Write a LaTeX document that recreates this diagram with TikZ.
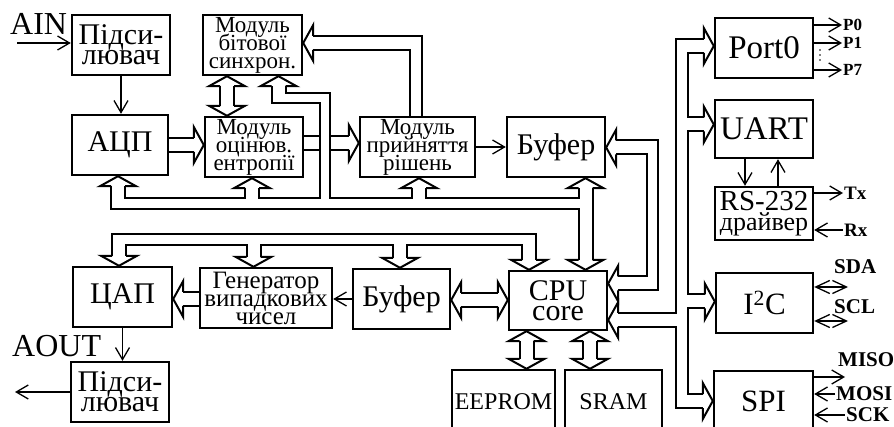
\documentclass[tikz,border=0pt]{standalone}
\usepackage{fontspec}
\setmainfont{Liberation Serif}
\usetikzlibrary{arrows.meta,calc}
\newcommand{\hgap}{7}
\newcommand{\hwid}{18}
\newcommand{\hlen}{10}
\newcommand{\fsz}[2]{\fontsize{#1}{#2}\selectfont\lineskiplimit=-100pt\relax}
\tikzset{
  blk/.style={draw, line width=2.4pt, inner sep=0pt, align=center, minimum width=98pt,
              minimum height=60pt, font=\fsz{30}{20}},
  modbox/.style={blk, font=\fsz{23}{18}},
  bus/.style={line width=2pt, line join=miter},                       % double-line bus
  sig/.style={-{Straight Barb[length=12pt,width=14pt]}, line width=1.3pt}, % single signal
  bisig/.style={{Straight Barb[length=14pt,width=13pt]}-{Straight Barb[length=14pt,width=13pt]}, line width=1.3pt},
  pinlbl/.style={font=\fsz{17}{17}\bfseries, inner sep=1pt, anchor=west},
  extlbl/.style={font=\fsz{32}{32}, inner sep=0pt, anchor=base west},
}
% hollow bus heads: #1 tip, #2 name of the two stem points
\newcommand{\headU}[2]{\begin{scope}[shift={(#1)}]
  \draw[bus] (-\hgap,\hlen) -- (-\hwid,\hlen) -- (0,0) -- (\hwid,\hlen) -- (\hgap,\hlen);
  \coordinate (#2l) at (-\hgap,\hlen); \coordinate (#2r) at (\hgap,\hlen);
\end{scope}}
\newcommand{\headD}[2]{\begin{scope}[shift={(#1)}]
  \draw[bus] (-\hgap,-\hlen) -- (-\hwid,-\hlen) -- (0,0) -- (\hwid,-\hlen) -- (\hgap,-\hlen);
  \coordinate (#2l) at (-\hgap,-\hlen); \coordinate (#2r) at (\hgap,-\hlen);
\end{scope}}
\newcommand{\headL}[2]{\begin{scope}[shift={(#1)}]
  \draw[bus] (\hlen,-\hgap) -- (\hlen,-\hwid) -- (0,0) -- (\hlen,\hwid) -- (\hlen,\hgap);
  \coordinate (#2t) at (\hlen,-\hgap); \coordinate (#2b) at (\hlen,\hgap);
\end{scope}}
\newcommand{\headR}[2]{\begin{scope}[shift={(#1)}]
  \draw[bus] (-\hlen,-\hgap) -- (-\hlen,-\hwid) -- (0,0) -- (-\hlen,\hwid) -- (-\hlen,\hgap);
  \coordinate (#2t) at (-\hlen,-\hgap); \coordinate (#2b) at (-\hlen,\hgap);
\end{scope}}

\begin{document}
\begin{tikzpicture}[x=1pt,y=-1pt]
  \useasboundingbox (0,0) rectangle (894,427);
  \clip (0,0) rectangle (894,427);
  % blocks
  \node[blk] (amp1) at (121,45) {Підси-\\лювач};
  \node[blk, minimum width=96pt] (adc) at (120,145) {АЦП};
  \node[modbox, minimum width=99pt] (bsync) at (252.5,45) {Модуль\\бітової\\синхрон.};
  \node[modbox] (entr) at (254,147) {Модуль\\оцінюв.\\ентропії};
  \node[modbox, minimum width=115pt] (dec) at (417.5,147) {Модуль\\прийняття\\рішень};
  \node[blk] (buf1) at (556,147) {Буфер};
  \node[blk, minimum width=99pt] (dac) at (122.5,297) {ЦАП};
  \node[modbox, minimum width=132pt, font=\fsz{25}{18}] (gen) at (266,298) {Генератор\\випадкових\\чисел};
  \node[blk, minimum width=97pt] (buf2) at (401.5,299) {Буфер};
  \node[blk, minimum height=59pt] (cpu) at (558,300.5) {CPU\\core};
  \node[blk] (amp2) at (120,392) {Підси-\\лювач};
  \node[blk, minimum width=103pt, minimum height=64pt, font=\fsz{24}{20}] (eeprom) at (503.5,402) {EEPROM};
  \node[blk, minimum width=97pt, minimum height=64pt, font=\fsz{24}{20}] (sram) at (613.5,402) {SRAM};
  \node[blk, font=\fsz{33}{20}] (port0) at (764,48) {Port0};
  \node[blk, minimum height=58pt, font=\fsz{33}{20}] (uart) at (764,129) {UART};
  \node[blk, minimum height=53pt, font=\fsz{29}{20}] (rs) at (764,213.5) {RS-232\\{\fsz{26}{20}драйвер}};
  \node[blk, minimum width=97pt, font=\fsz{31}{20}] (i2c) at (764.5,303) {I\textsuperscript{2}C};
  \node[blk, minimum width=99pt, font=\fsz{31}{20}] (spi) at (763.5,401) {SPI};

  % outside labels
  \node[extlbl] (lAin) at (10,35) {AIN};
  \node[extlbl] (lAout) at (12,357) {AOUT};
  \node[pinlbl] (lP0) at (842,25) {P0};
  \node[pinlbl] (lP1) at (842,43) {P1};
  \node[pinlbl] (lP7) at (842,70) {P7};
  \foreach \yy in {50,55,60}{\fill (820,\yy) circle (0.9pt);}
  \node[pinlbl, font=\fsz{19}{19}\bfseries] (lTx) at (843,193) {Tx};
  \node[pinlbl, font=\fsz{19}{19}\bfseries] (lRx) at (843,230) {Rx};
  \node[pinlbl, font=\fsz{21}{21}\bfseries] (lSda) at (833,267) {SDA};
  \node[pinlbl, font=\fsz{21}{21}\bfseries] (lScl) at (833,307) {SCL};
  \node[pinlbl, font=\fsz{21}{21}\bfseries] (lMiso) at (837,360) {MISO};
  \node[pinlbl, font=\fsz{21}{21}\bfseries] (lMosi) at (835,394) {MOSI};
  \node[pinlbl, font=\fsz{21}{21}\bfseries] (lSck) at (845,415) {SCK};
  \coordinate (ainSrc) at (17,43);
  \coordinate (aoutEnd) at (15,392);
  \coordinate (sdaEnd) at (848,287);
  \coordinate (sclEnd) at (848,321);
  \coordinate (misoEnd) at (845,377);

  % single signals
  \draw[sig] (ainSrc) -- (amp1.west |- ainSrc);
  \draw[sig] (amp1.south) -- (amp1.south |- adc.north);
  \draw[sig] (dec.east) -- (dec.east -| buf1.west);
  \draw[sig] (buf2.west) -- (buf2.west -| gen.east);
  \draw[sig] (dac.south) -- (dac.south |- amp2.north);
  \draw[sig] (amp2.west |- aoutEnd) -- (aoutEnd);
  \draw[sig] (745,0 |- uart.south) -- (745,0 |- rs.north);
  \draw[sig] (778,0 |- rs.north) -- (778,0 |- uart.south);
  \draw[sig] (port0.east |- lP0) -- (lP0.west);
  \draw[sig] (port0.east |- lP1) -- (lP1.west);
  \draw[sig] (port0.east |- lP7) -- (lP7.west);
  \draw[sig] (rs.east |- lTx) -- (lTx.west);
  \draw[sig] (lRx.west) -- (rs.east |- lRx);
  \draw[bisig] (i2c.east |- sdaEnd) -- (sdaEnd);
  \draw[bisig] (i2c.east |- sclEnd) -- (sclEnd);
  \draw[sig] (spi.east |- misoEnd) -- (misoEnd);
  \draw[sig] (lMosi.west) -- (spi.east |- lMosi);
  \draw[sig] (lSck.west) -- (spi.east |- lSck);

  % upper bus
  \coordinate (topIn) at (0,198);
  \coordinate (topOut) at (0,209);
  \coordinate (vx1) at (320,103);
  \coordinate (vx2) at (330,93);
  \headU{118,0 |- adc.south}{hAdc}
  \headU{252,0 |- entr.south}{hEnt}
  \headU{419,0 |- dec.south}{hDec}
  \headU{585.5,0 |- buf1.south}{hBuf}
  \headD{585.5,0 |- cpu.north}{hCpuT}
  \headU{278.5,0 |- bsync.south}{hSyn}
  \draw[bus] (hCpuTl) -- (hCpuTl |- topOut) -| (hAdcl);
  \draw[bus] (hAdcr) -- (hAdcr |- topIn) -| (hEntl);
  \draw[bus] (hEntr) -- (hEntr |- topIn) -| (vx1) -| (hSynl);
  \draw[bus] (hSynr) |- (vx2) -- (vx2 |- topIn) -| (hDecl);
  \draw[bus] (hDecr) -- (hDecr |- topIn) -| (hBufl);
  \draw[bus] (hBufr) -- (hCpuTr);
  % sync <-> entropy
  \headU{227,0 |- bsync.south}{hSx}
  \headD{227,0 |- entr.north}{hEx}
  \draw[bus] (hSxl) -- (hExl) (hSxr) -- (hExr);
  % ADC -> entropy -> decision
  \headR{entr.west |- 0,145}{hAe}
  \draw[bus] (adc.east |- hAet) -- (hAet) (adc.east |- hAeb) -- (hAeb);
  \headR{dec.west |- 0,143}{hEd}
  \draw[bus] (entr.east |- hEdt) -- (vx1 |- hEdt) (vx2 |- hEdt) -- (hEdt);
  \draw[bus] (entr.east |- hEdb) -- (vx1 |- hEdb) (vx2 |- hEdb) -- (hEdb);
  % decision -> sync
  \headL{bsync.east |- 0,43}{hFb}
  \draw[bus] (hFbt) -| (422,0 |- dec.north);
  \draw[bus] (hFbb) -| (410,0 |- dec.north);
  % buffer <-> CPU, right side
  \headL{buf1.east |- 0,147.5}{hBr}
  \headL{cpu.east |- 0,283.5}{hCr1}
  \draw[bus] (hBrt) -- (658,0 |- hBrt) |- (hCr1b);
  \draw[bus] (hBrb) -- (647,0 |- hBrb) |- (hCr1t);

  % peripheral bus
  \headL{cpu.east |- 0,320}{hCr2}
  \headR{port0.west |- 0,46}{hPort}
  \headR{uart.west |- 0,124.5}{hUart}
  \headR{i2c.west |- 0,301.5}{hIic}
  \headR{spi.west |- 0,401}{hSpi}
  \draw[bus] (hCr2t) -- (676,0 |- hCr2t) |- (hPortt);
  \draw[bus] (hCr2b) -- (676,0 |- hCr2b) |- (hSpib);
  \draw[bus] (hPortb) -- (688,0 |- hPortb) |- (hUartt);
  \draw[bus] (hUartb) -- (688,0 |- hUartb) |- (hIict);
  \draw[bus] (hIicb) -- (688,0 |- hIicb) |- (hSpit);

  % lower bus
  \coordinate (botOut) at (0,234);
  \coordinate (botIn) at (0,245);
  \headD{119,0 |- dac.north}{hDac}
  \headD{253.5,0 |- gen.north}{hGen}
  \headD{400,0 |- buf2.north}{hBf2}
  \headD{529,0 |- cpu.north}{hCpuB}
  \draw[bus] (hDacl) -- (hDacl |- botOut) -| (hCpuBr);
  \draw[bus] (hDacr) -- (hDacr |- botIn) -| (hGenl);
  \draw[bus] (hGenr) -- (hGenr |- botIn) -| (hBf2l);
  \draw[bus] (hBf2r) -- (hBf2r |- botIn) -| (hCpuBl);
  % generator -> DAC
  \headL{dac.east |- 0,299}{hGd}
  \draw[bus] (hGdt) -- (gen.west |- hGdt) (hGdb) -- (gen.west |- hGdb);
  % buffer <-> CPU
  \headL{buf2.east |- 0,300}{hB2}
  \headR{cpu.west |- 0,300}{hC2}
  \draw[bus] (hB2t) -- (hC2t) (hB2b) -- (hC2b);
  % CPU <-> memories
  \headU{526.5,0 |- cpu.south}{hM1}
  \headD{526.5,0 |- eeprom.north}{hM2}
  \draw[bus] (hM1l) -- (hM2l) (hM1r) -- (hM2r);
  \headU{590,0 |- cpu.south}{hM3}
  \headD{590,0 |- sram.north}{hM4}
  \draw[bus] (hM3l) -- (hM4l) (hM3r) -- (hM4r);
\end{tikzpicture}
\end{document}
